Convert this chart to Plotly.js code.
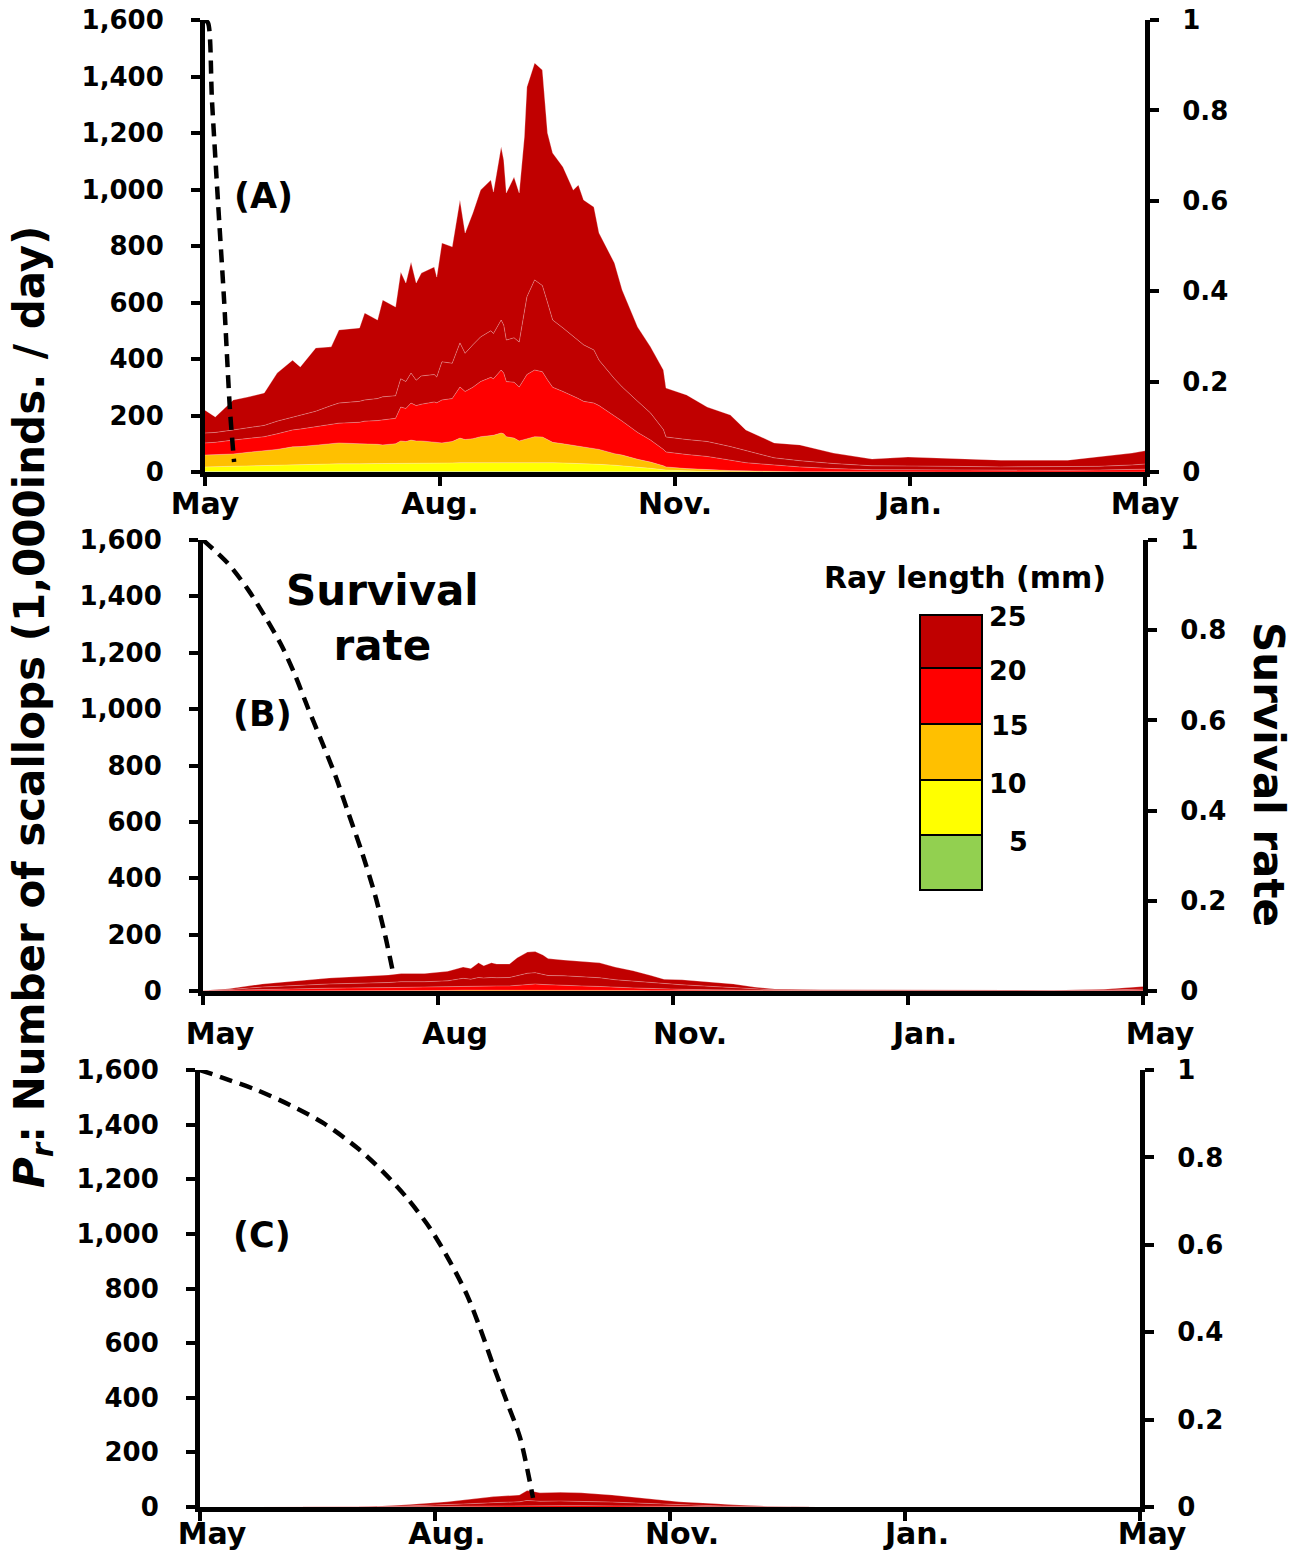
<!DOCTYPE html>
<html><head><meta charset="utf-8">
<script src="https://cdn.plot.ly/plotly-3.0.1.min.js"></script>
<style>html,body{margin:0;padding:0;background:#fff}#chart{width:1301px;height:1555px}</style>
</head><body><div id="chart"></div>
<script>
// ---------- tick labels ----------
const monthTicks = [0, 91.25, 182.5, 273.75, 365];
const monthLabelsA = ['May', 'Aug.', 'Nov.', 'Jan.', 'May'];
const monthLabelsB = ['May', 'Aug', 'Nov.', 'Jan.', 'May'];
const monthLabelsC = ['May', 'Aug.', 'Nov.', 'Jan.', 'May'];
const countTicks = [0, 200, 400, 600, 800, 1000, 1200, 1400, 1600];
const survTicks = [0, 0.2, 0.4, 0.6, 0.8, 1];
const survTickText = ['0', '0.2', '0.4', '0.6', '0.8', '1'];

// ---------- legend (ray length classes, mm) ----------
const legendLabels = ['25', '20', '15', '10', '5'];
const legendColors = ['#C00000', '#FF0000', '#FFC000', '#FFFF00', '#92D050'];

// ---------- Panel A : daily number of scallops by ray-length class (1,000 inds./day) ----------
const daysA = [0,4,11,17,23,28,34,37,43,49,52,60,62,67,69,74,76,78,80,82,84,89,90,92,96,99,101,104,107,111,112,115,116,117,120,122,124,125,128,131,133,135,139,143,145,147,151,153,159,162,168,173,178,179,187,195,204,210,221,231,244,259,273,290,309,335,347,360,365];
const a05 = [2,2,2,2,2,2,2,2,2,2, 2,2,2,2,2,2,2,2,2,2, 2,2,2,2,2,2,2,2,2,2, 2,2,2,2,2,2,2,2,2,2, 2,2,2,2,2,2,2,2,2,2, 1,1,1,1,0,0,0,0,0,0, 0,0,0,0,0,0,0,0,0];
const a10 = [16,17,18,20,21,22,23,24,25,26, 27,27,28,28,28,28,29,29,29,29, 29,30,30,30,30,31,31,31,32,32, 32,33,33,32,32,31,31,32,33,33, 32,31,30,29,28,27,26,25,22,20, 16,12,7,6,4,2,1,1,0,0, 0,0,0,0,0,0,0,0,0];
const a15 = [42,43,44,48,52,56,64,64,68,72, 74,71,70,68,66,70,79,77,82,79, 79,73,71,71,76,87,82,85,91,96, 96,103,100,91,86,77,82,86,90,89, 81,72,68,64,60,59,57,53,41,38, 28,22,14,11,8,6,4,3,2,1, 1,0,0,0,0,0,0,0,0];
const a20 = [43,43,49,48,50,55,60,62,65,68, 70,76,80,84,88,90,120,117,131,125, 130,143,142,152,152,181,170,182,195,205, 200,223,215,195,198,191,215,225,236,231, 211,195,185,175,170,162,159,155,135,120, 95,78,58,53,50,47,37,29,23,17, 11,8,8,7,6,6,7,9,10];
const a25lo = [35,35,36,40,40,45,46,48,55,67, 71,74,75,78,82,80,100,95,106,90, 100,97,91,135,125,156,135,150,158,165, 160,177,170,147,157,159,233,275,319,305, 274,238,225,210,207,200,188,161,130,121, 110,96,70,53,53,53,48,42,25,22, 18,14,14,13,12,12,13,16,18];
const a25hi = [81,55,106,108,115,170,201,172,224,208, 259,260,308,278,343,314,378,349,393,344, 364,381,354,421,412,506,426,467,520,534, 501,613,584,521,569,528,623,743,768,763, 600,591,570,518,549,513,506,450,410,343, 263,234,211,173,158,122,112,74,53,56, 37,24,31,28,24,24,33,42,47];

// ---------- Panel B ----------
const daysB = [0,10,23,35,49,72,77,86,95,101,104,107,109,112,114,119,122,126,129,132,134,140,147,154,160,167,174,179,186,198,206,214,222,240,270,300,330,350,360,365];
const b15 = [0,0,1,1,2,2,2,2,2,3, 3,3,3,3,3,3,3,4,4,4, 3,3,3,2,2,2,1,1,1,0, 0,0,0,0,0,0,0,0,0,0];
const b20 = [1,3,5,7,8,10,11,12,13,13, 13,14,14,15,15,15,17,20,21,19, 19,17,15,14,11,9,8,6,5,4, 3,2,1,1,0,0,0,1,2,3];
const b25lo = [0,2,8,12,15,18,20,19,21,29, 26,31,29,30,29,30,35,39,40,37, 33,34,33,31,27,24,21,18,16,12, 9,5,3,1,1,1,1,2,3,4];
const b25hi = [1,3,11,15,21,27,29,29,34,40, 38,52,44,52,49,48,63,75,75,68, 60,56,55,53,45,37,25,17,18,16, 13,7,3,2,2,1,2,3,7,9];

// ---------- Panel C ----------
const daysC = [0,60,69,80,96,105,114,124,127,130,132,140,148,160,174,186,199,207,220,240,365];
const c20 = [0,0,0,1,2,3,4,5,6,6,5,5,5,4,3,2,1,1,0,0,0];
const c25lo = [0,0,1,3,6,9,12,14,18,17,16,17,16,14,10,6,4,2,1,0,0];
const c25hi = [0,0,2,4,11,16,22,25,36,33,31,32,31,26,19,11,8,5,2,0,0];

// ---------- Survival rate ----------
const survDaysA = [0, 1.2, 2.7, 5.0, 7.4, 9.7, 11.3];
const survA = [1.0, 0.993, 0.823, 0.602, 0.381, 0.137, 0.022];
const survDaysB = [0, 9.7, 17.5, 24.1, 30.7, 35.7, 40.8, 46.2, 51.3, 56.3, 61.7, 66.8, 70.7, 74.0];
const survB = [1.0, 0.948, 0.890, 0.830, 0.764, 0.701, 0.627, 0.552, 0.479, 0.397, 0.308, 0.213, 0.124, 0.035];
const survDaysC = [0, 8.9, 22.1, 34.9, 47.8, 61.0, 71.1, 80.4, 89.3, 97.1, 103.7, 108.7, 113.8, 119.2, 124.3, 129.3];
const survC = [1.0, 0.982, 0.954, 0.920, 0.879, 0.822, 0.767, 0.707, 0.638, 0.561, 0.485, 0.410, 0.325, 0.240, 0.158, 0.021];

// ---------- build ----------
const W = 1301, H = 1555;
const px = v => v / W;
const py = v => 1 - v / H;
const FONT = 'DejaVu Sans';
const innerLine = {width: 0.8, color: 'rgba(255,255,255,0.35)'};

function area(x, y, color, xa, ya, group) {
  return {type: 'scatter', mode: 'lines', x: x, y: y, stackgroup: group,
    fillcolor: color, line: innerLine, xaxis: xa, yaxis: ya,
    hoverinfo: 'skip', showlegend: false};
}
function surv(x, y, xa, ya) {
  return {type: 'scatter', mode: 'lines', x: x, y: y, xaxis: xa, yaxis: ya,
    line: {color: '#000', width: 4.5, dash: '13px,8px', shape: 'spline', smoothing: 0.8},
    hoverinfo: 'skip', showlegend: false};
}

const traces = [
  area(daysA, a05, '#92D050', 'x', 'y', 'A'),
  area(daysA, a10, '#FFFF00', 'x', 'y', 'A'),
  area(daysA, a15, '#FFC000', 'x', 'y', 'A'),
  area(daysA, a20, '#FF0000', 'x', 'y', 'A'),
  area(daysA, a25lo, '#C00000', 'x', 'y', 'A'),
  area(daysA, a25hi, '#C00000', 'x', 'y', 'A'),
  surv(survDaysA, survA, 'x', 'y2'),
  area(daysB, b15, '#FFC000', 'x2', 'y3', 'B'),
  area(daysB, b20, '#FF0000', 'x2', 'y3', 'B'),
  area(daysB, b25lo, '#C00000', 'x2', 'y3', 'B'),
  area(daysB, b25hi, '#C00000', 'x2', 'y3', 'B'),
  surv(survDaysB, survB, 'x2', 'y4'),
  area(daysC, c20, '#FF0000', 'x3', 'y5', 'C'),
  area(daysC, c25lo, '#C00000', 'x3', 'y5', 'C'),
  area(daysC, c25hi, '#C00000', 'x3', 'y5', 'C'),
  surv(survDaysC, survC, 'x3', 'y6')
];

const tickFontY = {family: FONT, size: 26, weight: 'bold', color: '#000'};
const tickFontX = {family: FONT, size: 30, weight: 'bold', color: '#000'};

function xAxis(domain, anchor, labels, shift, standoff) {
  return {domain: domain, anchor: anchor, range: [0, 365], tickmode: 'array',
    tickvals: monthTicks, ticktext: labels, ticks: 'outside', ticklen: 9, tickwidth: 4,
    tickcolor: '#000', showline: true, linewidth: 5, linecolor: '#000',
    showgrid: false, zeroline: false, tickfont: tickFontX,
    ticklabelshift: shift, ticklabelstandoff: standoff, fixedrange: true};
}
function yLeft(domain, anchor) {
  return {domain: domain, anchor: anchor, range: [0, 1600], tickmode: 'array',
    tickvals: countTicks, tickformat: ',', ticks: 'outside', ticklen: 9, tickwidth: 4,
    tickcolor: '#000', showline: true, linewidth: 5, linecolor: '#000',
    showgrid: false, zeroline: false, tickfont: tickFontY, ticklabelstandoff: 22, fixedrange: true};
}
function yRight(over, anchor) {
  return {overlaying: over, anchor: anchor, side: 'right', range: [0, 1], tickmode: 'array',
    tickvals: survTicks, ticktext: survTickText, ticks: 'outside', ticklen: 9, tickwidth: 4,
    tickcolor: '#000', showline: true, linewidth: 5, linecolor: '#000',
    showgrid: false, zeroline: false, tickfont: tickFontY, ticklabelstandoff: 18, fixedrange: true};
}

const shapes = [];
const legTops = [615, 668, 724, 780, 835, 890];
legendColors.forEach((c, i) => {
  shapes.push({type: 'rect', xref: 'paper', yref: 'paper',
    x0: px(920), x1: px(982), y0: py(legTops[i + 1]), y1: py(legTops[i]),
    fillcolor: c, line: {color: '#000', width: 2}});
});

const ann = (x, y, text, size, extra) => Object.assign({xref: 'paper', yref: 'paper',
  x: px(x), y: py(y), text: text, showarrow: false, xanchor: 'center', yanchor: 'middle',
  font: {family: FONT, size: size, weight: 'bold', color: '#000'}}, extra || {});

const legLabelX = [1008, 1008, 1010, 1008, 1018];
const legLabelY = [616, 670, 725, 783, 841];
const annotations = [
  ann(263, 196, '(A)', 35),
  ann(262, 714, '(B)', 35),
  ann(262, 1235, '(C)', 35),
  ann(383, 618, 'Survival<br>rate', 42),
  ann(965, 578, 'Ray length (mm)', 30),
  ann(32, 707, '<i>P</i><sub><i>r</i></sub>: Number of scallops (1,000inds. / day)', 42, {textangle: -90}),
  ann(1268, 774, 'Survival rate', 42, {textangle: 90})
];
legendLabels.forEach((t, i) => annotations.push(ann(legLabelX[i], legLabelY[i], t, 27)));

const layout = {
  width: W, height: H, margin: {l: 0, r: 0, t: 0, b: 0},
  paper_bgcolor: '#fff', plot_bgcolor: 'rgba(0,0,0,0)', showlegend: false,
  font: {family: FONT, color: '#000'},
  xaxis: xAxis([px(205), px(1145)], 'y', monthLabelsA, 0, -8),
  yaxis: yLeft([py(472), py(20)], 'x'),
  yaxis2: yRight('y', 'x'),
  xaxis2: xAxis([px(203), px(1143)], 'y3', monthLabelsB, 17, 3),
  yaxis3: yLeft([py(991), py(540)], 'x2'),
  yaxis4: yRight('y3', 'x2'),
  xaxis3: xAxis([px(200), px(1140)], 'y5', monthLabelsC, 12, -13),
  yaxis5: yLeft([py(1507), py(1070)], 'x3'),
  yaxis6: yRight('y5', 'x3'),
  shapes: shapes, annotations: annotations
};

Plotly.newPlot('chart', traces, layout, {displayModeBar: false, staticPlot: true});
</script>
</body></html>
